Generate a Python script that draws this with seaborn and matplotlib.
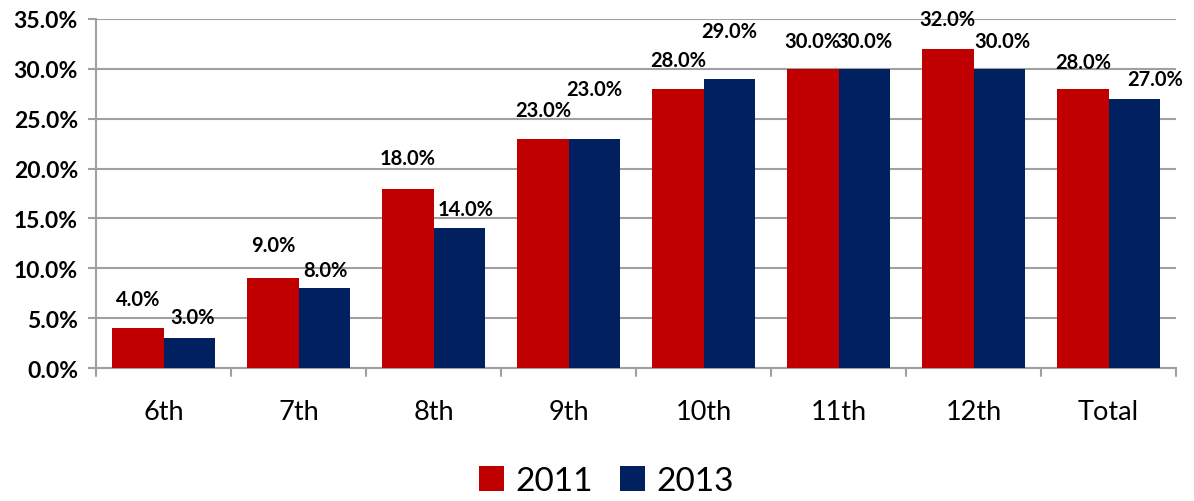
import matplotlib
matplotlib.use("Agg")
import matplotlib.pyplot as plt
import seaborn as sns
import pandas as pd

# Share of students by grade, two survey years
grades = ["6th", "7th", "8th", "9th", "10th", "11th", "12th", "Total"]
years = ["2011", "2013"]
values_2011 = [4.0, 9.0, 18.0, 23.0, 28.0, 30.0, 32.0, 28.0]
values_2013 = [3.0, 8.0, 14.0, 23.0, 29.0, 30.0, 30.0, 27.0]
y_ticks = [0, 5, 10, 15, 20, 25, 30, 35]

colors = {"2011": "#C00000", "2013": "#002060"}

df = pd.DataFrame({
    "grade": grades * 2,
    "year": [years[0]] * len(grades) + [years[1]] * len(grades),
    "value": values_2011 + values_2013,
})

sns.set_theme(style="white")
plt.rcParams["font.family"] = ["Lato", "DejaVu Sans"]

fig = plt.figure(figsize=(11.94, 5.02), dpi=100)
ax = fig.add_axes([96 / 1194, 1 - 369 / 502, (1176 - 96) / 1194, (369 - 20) / 502])

sns.barplot(data=df, x="grade", y="value", hue="year", order=grades,
            hue_order=years, palette=colors, width=0.76, saturation=1,
            ax=ax, linewidth=0, zorder=3)

ax.set_ylim(0, 35)
ax.set_xlim(-0.5, len(grades) - 0.5)
ax.set_yticks(y_ticks)
ax.set_yticklabels([f"{t:.1f}%" for t in y_ticks], fontsize=16.5,
                   fontweight="bold", color="black")
ax.set_xlabel("")
ax.set_ylabel("")
ax.tick_params(axis="x", labelsize=19.5, labelcolor="black", length=0, pad=22)
ax.tick_params(axis="y", length=6, width=1.5, color="#A0A0A0", left=True, pad=7)

# gridlines and gray frame
ax.yaxis.grid(True, color="#A0A0A0", linewidth=1.5, zorder=0)
for side in ["top", "right"]:
    ax.spines[side].set_visible(False)
for side in ["left", "bottom"]:
    ax.spines[side].set_color("#A0A0A0")
    ax.spines[side].set_linewidth(1.5)

# category separators below the axis
for b in range(len(grades) + 1):
    ax.plot([b - 0.5, b - 0.5], [0, -0.8], color="#A0A0A0", lw=1.5,
            clip_on=False, zorder=3)

# value labels (offsets in pixels relative to the bar top)
red_dy = [29, 33, 31, 29, 29, 28, 30, 27]
navy_dx = [3, 1, 7, 0, 0, 0, 3, 21]
navy_dy = [21, 18, 19, 50, 48, 28, 28, 20]
containers = ax.containers
for i, bar in enumerate(containers[0]):
    ax.annotate(f"{values_2011[i]:.1f}%",
                (bar.get_x() + bar.get_width() / 2, values_2011[i]),
                xytext=(0, red_dy[i] * 0.72), textcoords="offset points",
                ha="center", va="center", fontsize=14.5, fontweight="bold",
                color="black", zorder=5)
for i, bar in enumerate(containers[1]):
    ax.annotate(f"{values_2013[i]:.1f}%",
                (bar.get_x() + bar.get_width() / 2, values_2013[i]),
                xytext=(navy_dx[i] * 0.72, navy_dy[i] * 0.72),
                textcoords="offset points", annotation_clip=False,
                ha="center", va="center", fontsize=14.5, fontweight="bold",
                color="black", zorder=5)

ax.get_legend().remove()
handles, labels = ax.get_legend_handles_labels()
leg = fig.legend(handles, labels, loc="center", bbox_to_anchor=(0.508, 0.04),
                 ncol=2, frameon=False, fontsize=24, handlelength=0.75,
                 handleheight=0.75, handletextpad=0.35, columnspacing=0.8,
                 borderpad=0)
for t in leg.get_texts():
    t.set_color("black")

fig.savefig("out.png", dpi=100)
